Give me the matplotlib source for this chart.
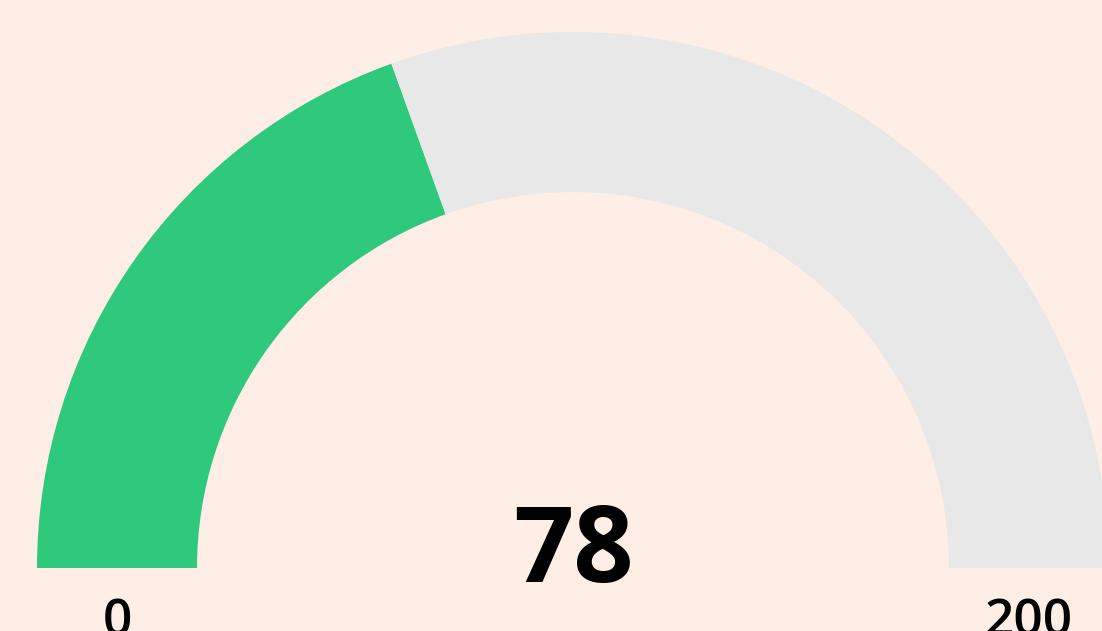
import matplotlib.pyplot as plt
from matplotlib.patches import Wedge

value = 78
min_value = 0
max_value = 200
labels = ["0", "200"]

bg = "#FEEEE5"
green = "#2FC97E"
gray = "#E8E8E8"

fig = plt.figure(figsize=(11.02, 6.31), dpi=100, facecolor=bg)
ax = fig.add_axes([0, 0, 1, 1])
ax.set_facecolor(bg)
ax.set_xlim(0, 1102)
ax.set_ylim(631, 0)
ax.axis("off")

cx, cy = 573, 568
r_out, r_in = 536, 376

frac = (value - min_value) / (max_value - min_value)
split = 180 - frac * 180

# y axis is flipped, so angles are measured clockwise -> use negatives
ax.add_patch(Wedge((cx, cy), r_out, 180, 360 - split + 0, width=r_out - r_in,
                   facecolor=green, edgecolor="none"))
ax.add_patch(Wedge((cx, cy), r_out, 360 - split, 360, width=r_out - r_in,
                   facecolor=gray, edgecolor="none"))

ax.text(cx, 582, str(value), ha="center", va="baseline", fontsize=76,
        fontweight="bold", family="Open Sans", color="black")
mid = (r_out + r_in) / 2
ax.text(cx - mid, 636, labels[0], ha="center", va="baseline", fontsize=37,
        fontweight="semibold", family="Open Sans", color="black")
ax.text(cx + mid, 636, labels[1], ha="center", va="baseline", fontsize=37,
        fontweight="semibold", family="Open Sans", color="black")

fig.savefig("out.png", dpi=100, facecolor=bg)
